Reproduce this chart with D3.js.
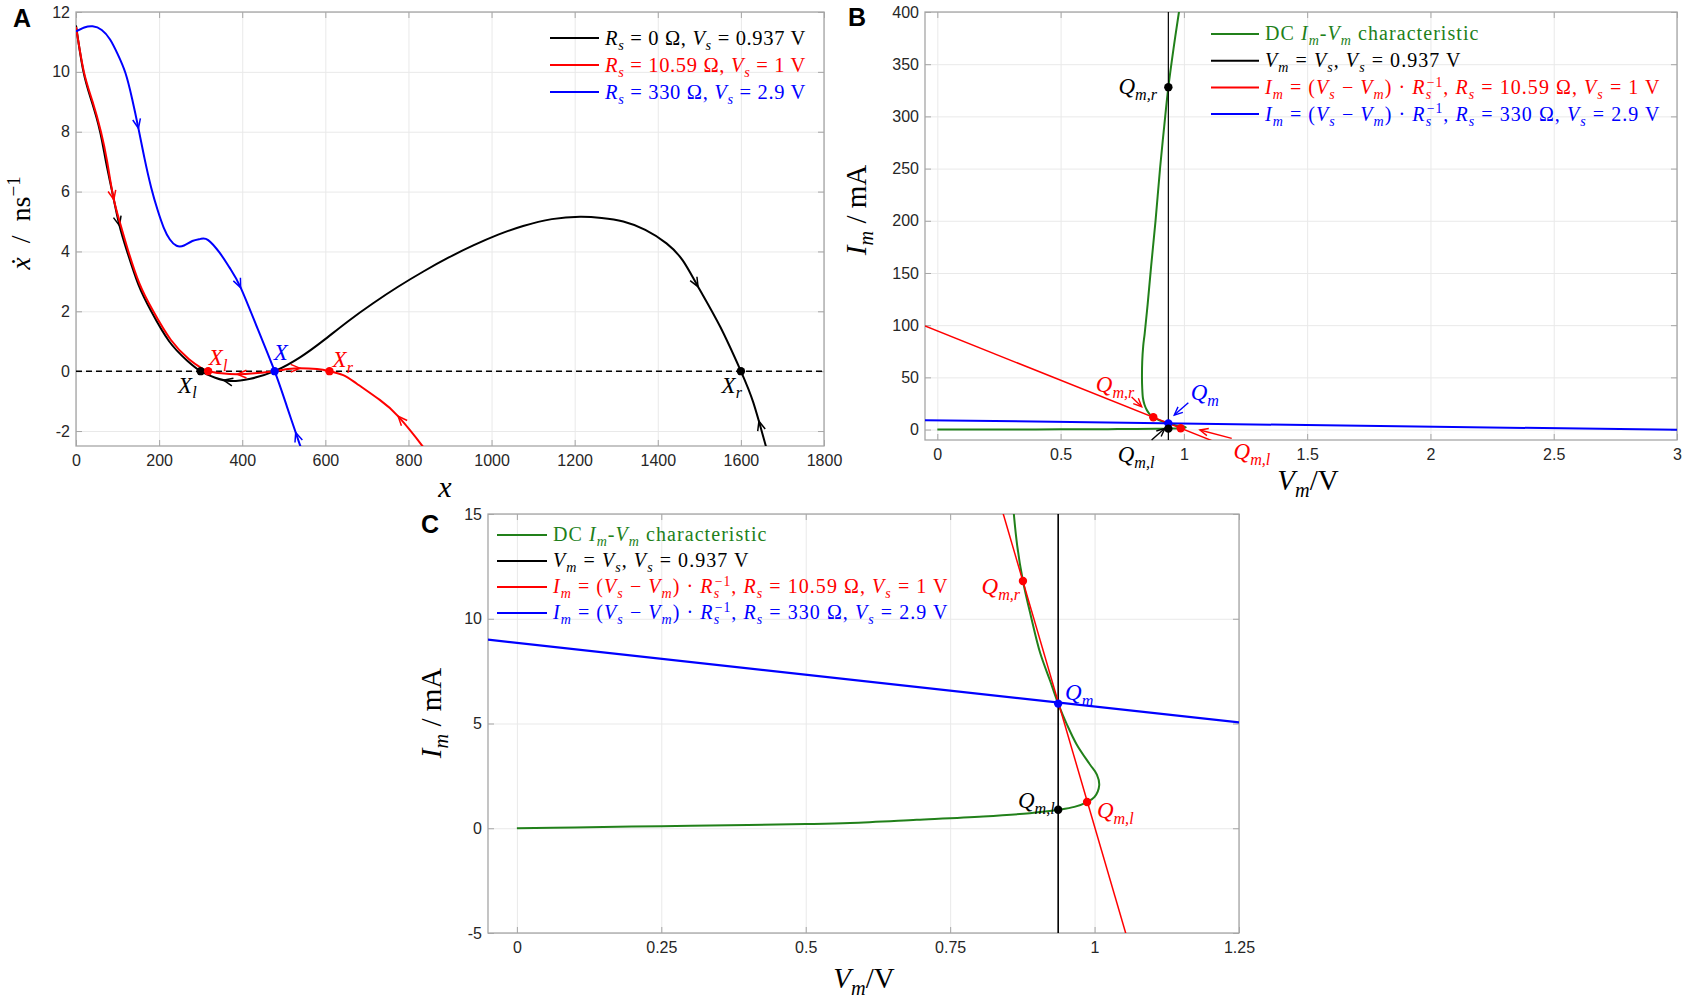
<!DOCTYPE html>
<html>
<head>
<meta charset="utf-8">
<script src="https://cdn.jsdelivr.net/npm/d3@7"></script>
<style>
  body { margin: 0; background: #fff; }
  svg { display: block; }
  text { white-space: pre; }
</style>
</head>
<body>
<svg id="fig" width="1687" height="1001"></svg>
<script>
// ---------- panel A : x vs xdot ----------
const ticksAx = [0, 200, 400, 600, 800, 1000, 1200, 1400, 1600, 1800];
const ticksAy = [-2, 0, 2, 4, 6, 8, 10, 12];

const curveA_black = [[0,11.55],[18,10],[38,9],[58,8],[72,7],[87,6],[104,4.9],[123,4],[150,2.9],[181,2],
  [224,1],[267,0.36],[300,0],[335,-0.22],[372,-0.33],[420,-0.25],[478,0],[540,0.47],[595,1.02],[655,1.67],
  [715,2.27],[775,2.82],[836,3.33],[896,3.79],[956,4.2],[1016,4.56],[1076,4.85],[1145,5.08],[1213,5.16],
  [1265,5.12],[1317,5.0],[1370,4.72],[1421,4.27],[1460,3.7],[1497,2.82],[1550,1.49],[1600,0],[1630,-1.05],
  [1658,-2.4],[1670,-3]];
const curveA_red = [[0,11.5],[19,10],[40,9],[60,8],[75,7],[90,5.8],[106,4.95],[125,4.05],[152,2.95],[184,2.05],
  [228,1.05],[272,0.4],[300,0.12],[318,0],[350,-0.07],[387,-0.1],[430,-0.07],[475,0],[510,0.07],[540,0.1],
  [580,0.07],[610,0],[643,-0.13],[675,-0.41],[731,-0.96],[776,-1.52],[832,-2.47],[845,-2.75]];
const curveA_blue = [[0,11.35],[20,11.48],[40,11.52],[62,11.4],[82,11.08],[100,10.6],[119,9.96],[135,9.1],
  [150,8.13],[165,7.1],[181,6.13],[196,5.4],[211,4.8],[226,4.4],[242,4.19],[260,4.2],[280,4.35],[300,4.42],
  [318,4.38],[346,3.95],[370,3.45],[396,2.8],[437,1.42],[478,0],[508,-1.2],[539,-2.47],[549,-2.9]];

// arrow heads on trajectories: [x, y, +1 along / -1 against the drawing direction]
const arrowsA_black = [[104,4.85,1],[354,-0.31,-1],[1497,2.82,1],[1640,-1.7,-1]];
const arrowsA_red = [[91,5.72,1],[387,-0.1,-1],[539,0.1,1],[776,-1.52,-1]];
const arrowsA_blue = [[150,8.13,1],[396,2.8,1],[535,-2.02,-1]];

const pointsA = [[300,0,"black"],[318,0,"red"],[478,0,"blue"],[610,0,"red"],[1600,0,"black"]];
// [label, x, y(baseline), colour]
const labelsA = [["$X$_{l}",268,-0.72,"black"],["$X$_{l}",342,0.2,"red"],["$X$",493,0.37,"blue"],
  ["$X$_{r}",642,0.14,"red"],["$X$_{r}",1578,-0.72,"black"]];
const legendA = [["$R$_{s} = 0 Ω, $V$_{s} = 0.937 V","black"],
  ["$R$_{s} = 10.59 Ω, $V$_{s} = 1 V","red"],
  ["$R$_{s} = 330 Ω, $V$_{s} = 2.9 V","blue"]];

// ---------- panels B and C : Im vs Vm ----------
const ticksBx = [0, 0.5, 1, 1.5, 2, 2.5, 3];
const ticksBy = [0, 50, 100, 150, 200, 250, 300, 350, 400];
const ticksCx = [0, 0.25, 0.5, 0.75, 1, 1.25];
const ticksCy = [-5, 0, 5, 10, 15];

// DC Im-Vm characteristic (Vm in V, Im in mA)
const dcChar = [[0,0],[0.1,0.04],[0.25,0.1],[0.4,0.16],[0.5,0.2],[0.577,0.25],[0.692,0.4],[0.807,0.56],
  [0.888,0.72],[0.937,0.88],[0.965,1.02],[0.987,1.25],[1.0,1.5],[1.008,2.05],[1.004,2.56],[0.992,3.04],
  [0.969,4.0],[0.952,4.96],[0.937,5.95],[0.923,7.04],[0.906,8.35],[0.89,10.1],[0.876,11.8],
  [0.866,13.5],[0.857,16],[0.848,19.5],[0.84,24],[0.834,30],[0.831,40],[0.830,50],[0.831,65],[0.835,80],
  [0.841,92],[0.853,120],[0.867,156],[0.885,200],[0.904,252],[0.92,290],[0.937,328],[0.958,365],
  [0.98,400],[0.99,418]];
const loadZero = [[0.937,-30],[0.937,430]];
const loadRed = [[-0.05,99.2],[1.2,-18.8]];
const loadBlue = [[-0.05,9.0],[3,-0.27]];

const pointsB = [[0.937,328,"black"],[0.876,11.8,"red"],[0.937,5.95,"blue"],[0.937,0.88,"black"],[0.987,1.25,"red"]];
const pointsC = [[0.876,11.8,"red"],[0.937,5.95,"blue"],[0.937,0.88,"black"],[0.987,1.25,"red"]];
// [label, Vm, Im(baseline), colour, anchor]
const labelsB = [["$Q$_{m,r}",0.891,321,"black","end"],["$Q$_{m,r}",0.721,36,"red","middle"],
  ["$Q$_{m}",1.085,28,"blue","middle"],["$Q$_{m,l}",0.806,-31,"black","middle"],
  ["$Q$_{m,l}",1.276,-28,"red","middle"]];
// annotation arrows [fromVm, fromIm, toVm, toIm, colour]
const annotB = [[0.788,31.2,0.829,21.9,"red"],[1.018,25.7,0.961,13.9,"blue"],
  [0.869,-10,0.923,1.2,"black"],[1.194,-8.4,1.065,-0.4,"red"]];
const labelsC = [["$Q$_{m,r}",0.871,11.18,"red","end"],["$Q$_{m}",0.949,6.1,"blue","start"],
  ["$Q$_{m,l}",0.931,0.96,"black","end"],["$Q$_{m,l}",1.004,0.48,"red","start"]];
const legendBC = [["DC $I$_{m}-$V$_{m} characteristic","green"],
  ["$V$_{m} = $V$_{s}, $V$_{s} = 0.937 V","black"],
  ["$I$_{m} = ($V$_{s} − $V$_{m}) · $R$_{s}^{−1}, $R$_{s} = 10.59 Ω, $V$_{s} = 1 V","red"],
  ["$I$_{m} = ($V$_{s} − $V$_{m}) · $R$_{s}^{−1}, $R$_{s} = 330 Ω, $V$_{s} = 2.9 V","blue"]];

// ---------- drawing ----------
const SERIF = "'Liberation Serif','DejaVu Serif',serif";
const SANS = "'Liberation Sans',Arial,Helvetica,sans-serif";
const COL = {black: "#000000", red: "#ff0000", blue: "#0000ff", green: "#21801a"};
const GRID = "#e9e9e9", BOX = "#a6a6a6";

const svg = d3.select("#fig");
svg.append("rect").attr("width", 1687).attr("height", 1001).attr("fill", "#fff");

const xA = d3.scaleLinear([0, 1800], [76, 824]);
const yA = d3.scaleLinear([-2.5, 12], [446, 12]);
const xB = d3.scaleLinear([-0.05, 3], [925, 1677]);
const yB = d3.scaleLinear([-10, 400], [440, 12]);
const xC = d3.scaleLinear([-0.05, 1.25], [488, 1239]);
const yC = d3.scaleLinear([-5, 15], [933, 514]);

// small latex-like text: $..$ italic, _{..} subscript, ^{..} superscript
function mathText(text, str, size) {
  const re = /\$([^$]*)\$|_\{([^}]*)\}|\^\{([^}]*)\}|([^$_^]+)/g;
  let m, shift = 0, lastSub = null;
  while ((m = re.exec(str))) {
    let t, it = false, fs = size, dy = 0, isSub = false, isSup = false;
    if (m[1] !== undefined) { t = m[1]; it = true; }
    else if (m[2] !== undefined) { t = m[2]; it = true; fs = size * 0.7; dy = size * 0.25; isSub = true; }
    else if (m[3] !== undefined) { t = m[3]; fs = size * 0.68; dy = -size * 0.36; isSup = true; }
    else t = m[4];
    const ts = text.append("tspan").text(t)
      .attr("font-style", it ? "italic" : "normal")
      .attr("font-size", fs)
      .attr("dy", dy - shift);
    if (isSup && lastSub) ts.attr("dx", -lastSub.node().getComputedTextLength());
    lastSub = isSub ? ts : null;
    shift = dy;
  }
  return text;
}

function frame(id, x, y, xt, yt) {
  const g = svg.append("g");
  const [l, r] = x.range(), [b, t] = y.range();
  svg.append("clipPath").attr("id", id).append("rect")
    .attr("x", l).attr("y", t).attr("width", r - l).attr("height", b - t);

  g.append("g").attr("transform", `translate(0,${b})`)
    .call(d3.axisBottom(x).tickValues(xt).tickSize(-(b - t)).tickFormat(""))
    .call(s => s.select(".domain").remove())
    .call(s => s.selectAll("line").attr("stroke", GRID));
  g.append("g").attr("transform", `translate(${l},0)`)
    .call(d3.axisLeft(y).tickValues(yt).tickSize(-(r - l)).tickFormat(""))
    .call(s => s.select(".domain").remove())
    .call(s => s.selectAll("line").attr("stroke", GRID));

  const style = s => {
    s.select(".domain").remove();
    s.selectAll("line").attr("stroke", BOX);
    s.selectAll("text").attr("font-family", SANS).attr("font-size", 16).attr("fill", "#262626");
  };
  g.append("g").attr("transform", `translate(0,${b})`)
    .call(d3.axisBottom(x).tickValues(xt).tickSize(-6).tickPadding(9).tickFormat(d => String(d))).call(style);
  g.append("g").attr("transform", `translate(${l},0)`)
    .call(d3.axisLeft(y).tickValues(yt).tickSize(-6).tickPadding(6).tickFormat(d => String(d))).call(style);
  g.append("g").attr("transform", `translate(0,${t})`)
    .call(d3.axisTop(x).tickValues(xt).tickSize(-6).tickFormat("")).call(style);
  g.append("g").attr("transform", `translate(${r},0)`)
    .call(d3.axisRight(y).tickValues(yt).tickSize(-6).tickFormat("")).call(style);

  g.append("rect").attr("x", l).attr("y", t).attr("width", r - l).attr("height", b - t)
    .attr("fill", "none").attr("stroke", BOX).attr("stroke-width", 1.3);
  return g.append("g").attr("clip-path", `url(#${id})`);
}

function chevron(g, tx, ty, ang, color, len = 10, spread = 0.42, w = 1.4) {
  const p = a => [tx - len * Math.cos(a), ty - len * Math.sin(a)];
  const [a1, a2] = [p(ang - spread), p(ang + spread)];
  g.append("path").attr("d", `M${a1}L${tx},${ty}L${a2}`)
    .attr("fill", "none").attr("stroke", color).attr("stroke-width", w).attr("stroke-linejoin", "miter");
}

function curveArrows(g, pathSel, arrows, x, y, color) {
  const node = pathSel.node(), total = node.getTotalLength();
  arrows.forEach(([ax, ay, dir]) => {
    const px = x(ax), py = y(ay);
    let best = 0, bd = Infinity;
    for (let L = 0; L <= total; L += 1) {
      const q = node.getPointAtLength(L), d = (q.x - px) ** 2 + (q.y - py) ** 2;
      if (d < bd) { bd = d; best = L; }
    }
    const p1 = node.getPointAtLength(Math.max(0, best - 3));
    const p2 = node.getPointAtLength(Math.min(total, best + 3));
    let ang = Math.atan2(p2.y - p1.y, p2.x - p1.x);
    if (dir < 0) ang += Math.PI;
    const tip = node.getPointAtLength(best);
    chevron(g, tip.x, tip.y, ang, color, 10, 0.4, 1.5);
  });
}

function lineOf(x, y, curve) {
  return d3.line().x(d => x(d[0])).y(d => y(d[1])).curve(curve || d3.curveLinear);
}

// legend rows; the widest row is stretched (letter spacing) to the reference width
function legend(items, x0, y0, dy, size, lineLen, width) {
  const g = svg.append("g");
  const texts = items.map(([str, c], i) => {
    const yy = y0 + i * dy;
    g.append("line").attr("x1", x0).attr("x2", x0 + lineLen).attr("y1", yy).attr("y2", yy)
      .attr("stroke", COL[c]).attr("stroke-width", 2);
    return mathText(g.append("text").attr("x", x0 + lineLen + 6).attr("y", yy + size * 0.32)
      .attr("font-family", SERIF).attr("fill", COL[c]), str, size);
  });
  let wMax = 0, nMax = 1;
  texts.forEach(t => {
    const w = t.node().getComputedTextLength();
    if (w > wMax) { wMax = w; nMax = t.node().getNumberOfChars(); }
  });
  const ls = Math.max(0, (width - wMax) / nMax);
  texts.forEach(t => t.attr("letter-spacing", ls));
}

function dots(g, pts, x, y, r) {
  g.selectAll(null).data(pts).join("circle")
    .attr("cx", d => x(d[0])).attr("cy", d => y(d[1])).attr("r", r).attr("fill", d => COL[d[2]]);
}

function labels(g, items, x, y, size) {
  items.forEach(([str, vx, vy, c, anchor]) => {
    mathText(g.append("text").attr("x", x(vx)).attr("y", y(vy)).attr("text-anchor", anchor || "middle")
      .attr("font-family", SERIF).attr("fill", COL[c]), str, size);
  });
}

function axisLabel(str, cx, cy, size, rotate) {
  const t = svg.append("text").attr("text-anchor", "middle").attr("font-family", SERIF).attr("fill", "#000")
    .attr("transform", `translate(${cx},${cy})` + (rotate ? " rotate(-90)" : ""));
  mathText(t, str, size);
}

function panelLetter(s, x, y) {
  svg.append("text").attr("x", x).attr("y", y).attr("font-family", SANS).attr("font-weight", "bold")
    .attr("font-size", 25).attr("text-anchor", "middle").text(s);
}

// ===== Panel A =====
const gA = frame("clipA", xA, yA, ticksAx, ticksAy);
gA.append("line").attr("x1", xA(0)).attr("x2", xA(1800)).attr("y1", yA(0)).attr("y2", yA(0))
  .attr("stroke", "#000").attr("stroke-width", 1.5).attr("stroke-dasharray", "6,4");
const cr = d3.curveCatmullRom.alpha(0.5);
[[curveA_black, arrowsA_black, "black"], [curveA_red, arrowsA_red, "red"], [curveA_blue, arrowsA_blue, "blue"]]
  .forEach(([data, arr, c]) => {
    const p = gA.append("path").datum(data).attr("d", lineOf(xA, yA, d3.curveNatural))
      .attr("fill", "none").attr("stroke", COL[c]).attr("stroke-width", 2);
    curveArrows(gA, p, arr, xA, yA, COL[c]);
  });
dots(gA, pointsA, xA, yA, 4.2);
labels(svg.append("g"), labelsA, xA, yA, 23);
legend(legendA, 550, 38, 27, 20.5, 49, 201);
axisLabel("$x$", 445, 497, 30, false);
axisLabel("$ẋ$\u2002/\u2002ns^{−1}", 30, 223, 28, true);
panelLetter("A", 22, 27);

// ===== Panel B =====
const gB = frame("clipB", xB, yB, ticksBx, ticksBy);
gB.append("path").datum(dcChar).attr("d", lineOf(xB, yB, cr)).attr("fill", "none")
  .attr("stroke", COL.green).attr("stroke-width", 2);
gB.append("path").datum(loadZero).attr("d", lineOf(xB, yB)).attr("fill", "none")
  .attr("stroke", COL.black).attr("stroke-width", 1.2);
gB.append("path").datum(loadRed).attr("d", lineOf(xB, yB)).attr("fill", "none")
  .attr("stroke", COL.red).attr("stroke-width", 1.4);
gB.append("path").datum(loadBlue).attr("d", lineOf(xB, yB)).attr("fill", "none")
  .attr("stroke", COL.blue).attr("stroke-width", 2);
dots(gB, pointsB, xB, yB, 4.2);
const gBa = svg.append("g");
annotB.forEach(([fx, fy, tx, ty, c]) => {
  const x1 = xB(fx), y1 = yB(fy), x2 = xB(tx), y2 = yB(ty);
  gBa.append("line").attr("x1", x1).attr("y1", y1).attr("x2", x2).attr("y2", y2)
    .attr("stroke", COL[c]).attr("stroke-width", 1.4);
  chevron(gBa, x2, y2, Math.atan2(y2 - y1, x2 - x1), COL[c], 9, 0.42, 1.4);
});
labels(svg.append("g"), labelsB, xB, yB, 23);
legend(legendBC, 1211, 34, 26.7, 20, 48, 401);
axisLabel("$V$_{m}/V", 1308, 490, 29, false);
axisLabel("$I$_{m} / mA", 866, 210, 29, true);
panelLetter("B", 857, 26);

// ===== Panel C =====
const gC = frame("clipC", xC, yC, ticksCx, ticksCy);
gC.append("path").datum(dcChar).attr("d", lineOf(xC, yC, cr)).attr("fill", "none")
  .attr("stroke", COL.green).attr("stroke-width", 2);
gC.append("path").datum(loadZero).attr("d", lineOf(xC, yC)).attr("fill", "none")
  .attr("stroke", COL.black).attr("stroke-width", 1.6);
gC.append("path").datum(loadRed).attr("d", lineOf(xC, yC)).attr("fill", "none")
  .attr("stroke", COL.red).attr("stroke-width", 1.5);
gC.append("path").datum(loadBlue).attr("d", lineOf(xC, yC)).attr("fill", "none")
  .attr("stroke", COL.blue).attr("stroke-width", 2.2);
dots(gC, pointsC, xC, yC, 4.2);
labels(svg.append("g"), labelsC, xC, yC, 23);
legend(legendBC, 497, 535, 26, 20, 50, 401);
axisLabel("$V$_{m}/V", 864, 988, 29, false);
axisLabel("$I$_{m} / mA", 441, 713, 29, true);
panelLetter("C", 430, 533);
</script>
</body>
</html>
